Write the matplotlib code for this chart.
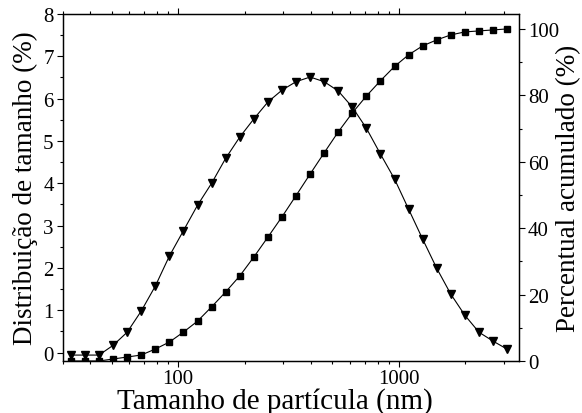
import matplotlib
matplotlib.use('Agg')
import matplotlib.pyplot as plt
from matplotlib.ticker import MultipleLocator, LogLocator, NullFormatter, FixedLocator

plt.rcParams['font.family'] = ['Liberation Serif', 'DejaVu Serif']

# particle size bins (nm)
size_nm = [32.67, 37.84, 43.82, 50.75, 58.77, 68.06, 78.82, 91.28, 105.7, 122.4,
           141.8, 164.2, 190.1, 220.2, 255.0, 295.3, 342.0, 396.1, 458.7, 531.2,
           615.1, 712.4, 825.0, 955.4, 1106, 1281, 1484, 1718, 1990, 2305,
           2669, 3091]

# size distribution (%), left axis
dist_pct = [-0.06, -0.06, -0.06, 0.17, 0.48, 0.98, 1.57, 2.28, 2.88, 3.48,
            4.00, 4.59, 5.09, 5.52, 5.92, 6.20, 6.40, 6.51, 6.40, 6.18,
            5.80, 5.30, 4.69, 4.10, 3.39, 2.68, 1.99, 1.38, 0.88, 0.48,
            0.27, 0.08]

# cumulative (%), right axis
cum_pct = [0.0, 0.0, 0.0, 0.6, 1.2, 1.8, 3.6, 5.7, 8.7, 12.0,
           16.3, 20.8, 25.6, 31.3, 37.3, 43.4, 49.8, 56.3, 62.7, 69.0,
           74.7, 79.8, 84.4, 88.7, 92.2, 94.9, 96.7, 98.2, 99.1, 99.4,
           99.7, 100.0]

fig = plt.figure(figsize=(5.82, 4.14), dpi=100)
ax = fig.add_axes([0.1077, 0.1256, 0.7841, 0.8382])
ax2 = ax.twinx()

ax.plot(size_nm, dist_pct, color='black', lw=0.8, marker='v', ms=6,
        mfc='black', mec='black', zorder=3)
ax2.plot(size_nm, cum_pct, color='black', lw=0.8, marker='s', ms=5,
         mfc='black', mec='black', zorder=3)

ax.set_xscale('log')
ax.set_xlim(30, 3500)
ax.set_ylim(-0.2, 8)
ax2.set_ylim(0, 104.5)

ax.xaxis.set_major_locator(FixedLocator([100, 1000]))
ax.xaxis.set_minor_locator(LogLocator(base=10, subs=range(2, 10)))
ax.xaxis.set_minor_formatter(NullFormatter())
ax.set_xticklabels(['100', '1000'])
ax.yaxis.set_major_locator(MultipleLocator(1))
ax.yaxis.set_minor_locator(MultipleLocator(0.5))
ax2.yaxis.set_major_locator(MultipleLocator(20))
ax2.yaxis.set_minor_locator(MultipleLocator(10))

for a in (ax, ax2):
    a.tick_params(which='major', direction='out', length=4.5, width=0.8,
                  labelsize=15, pad=2)
    a.tick_params(which='minor', direction='out', length=2.5, width=0.8)
    for sp in a.spines.values():
        sp.set_linewidth(0.9)
ax.tick_params(axis='x', which='both', top=True)
ax.tick_params(axis='x', which='major', pad=1)

ax.set_xlabel('Tamanho de partícula (nm)', fontsize=21, va='baseline')
ax.xaxis.set_label_coords(0.465, -0.1354, transform=ax.transAxes)
ax.set_ylabel('Distribuição de tamanho (%)', fontsize=19.5, labelpad=4)
ax2.set_ylabel('Percentual acumulado (%)', fontsize=19.5, rotation=90,
               labelpad=-2)

fig.savefig('out.png', dpi=100)
